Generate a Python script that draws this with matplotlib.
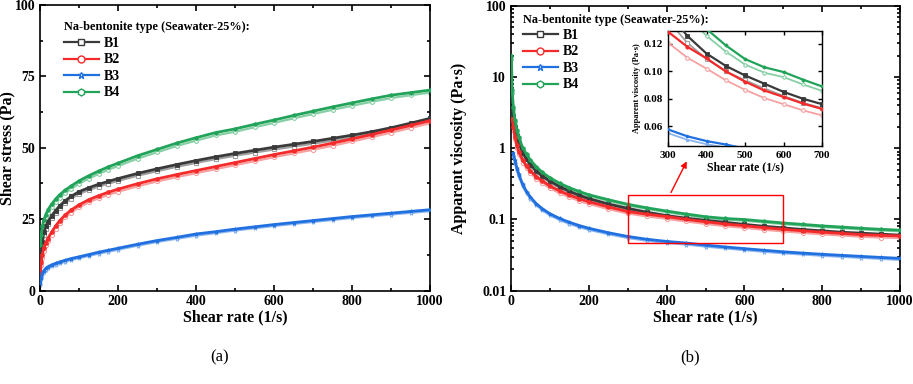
import numpy as np
import matplotlib
matplotlib.use("Agg")
import matplotlib.pyplot as plt
from matplotlib.lines import Line2D
from matplotlib.patches import Rectangle
from matplotlib.ticker import MultipleLocator, LogLocator, FixedLocator, FuncFormatter, NullFormatter

plt.rcParams['font.family'] = ['Liberation Serif', 'DejaVu Serif']
plt.rcParams['font.weight'] = 'bold'

# ---------------- data ----------------
shear_rate = [1, 3, 6, 10, 15, 20, 30, 40, 50, 65, 80, 100, 125, 150, 175, 200,
              250, 300, 350, 400, 450, 500, 550, 600, 650, 700, 750, 800, 850, 900, 950, 1000]

# shear stress, first run (solid symbols)
stress_B1 = [10, 14, 17, 20.5, 22.5, 24, 26.2, 28, 29.6, 31.5, 33, 34.6, 36, 37.2, 38.2, 39.2,
             41, 42.6, 44.1, 45.5, 46.8, 48, 49.1, 50.2, 51.2, 52.2, 53.3, 54.4, 55.6, 57, 58.6, 60.3]
stress_B2 = [6, 10, 12.5, 15, 16.8, 18.2, 20.5, 22.6, 24.4, 26.5, 28.2, 30, 31.8, 33.2, 34.4, 35.5,
             37.4, 39.1, 40.6, 42, 43.4, 44.8, 46.2, 47.6, 48.9, 50.2, 51.6, 53.1, 54.6, 56.2, 57.8, 59.5]
stress_B3 = [2.5, 4.5, 6, 7, 7.8, 8.3, 9, 9.5, 10, 10.6, 11.2, 11.8, 12.6, 13.4, 14.1, 14.8,
             16.2, 17.5, 18.6, 19.8, 20.6, 21.5, 22.3, 23.1, 23.8, 24.5, 25.2, 25.9, 26.5, 27.1, 27.7, 28.3]
stress_B4 = [16, 19.5, 22.5, 24.8, 26.6, 28.2, 30.3, 32, 33.5, 35.2, 36.6, 38.4, 40.2, 41.8, 43.3, 44.6,
             47.2, 49.4, 51.6, 53.5, 55.3, 56.6, 58.2, 59.7, 61.3, 62.8, 64.3, 65.7, 67.1, 68.4, 69.3, 70.2]

# shear stress, second run (hollow symbols)
stress_B1_r = [9, 13, 16, 19.5, 21.6, 23.2, 25.4, 27.2, 28.8, 30.7, 32.2, 33.8, 35.2, 36.4, 37.4, 38.4,
               40.2, 41.8, 43.3, 44.7, 46, 47.2, 48.3, 49.4, 50.4, 51.4, 52.5, 53.6, 54.8, 56.2, 57.8, 59.4]
stress_B2_r = [5, 9, 11.5, 14, 15.9, 17.3, 19.6, 21.7, 23.5, 25.6, 27.3, 29.1, 30.9, 32.3, 33.5, 34.6,
               36.5, 38.2, 39.7, 41.1, 42.5, 43.9, 45.3, 46.7, 48, 49.3, 50.7, 52.2, 53.7, 55.3, 56.9, 58.6]
stress_B3_r = [2, 4, 5.4, 6.5, 7.3, 7.8, 8.5, 9, 9.5, 10.1, 10.7, 11.3, 12.1, 12.9, 13.6, 14.3,
               15.7, 17, 18.1, 19.2, 20.1, 21, 21.8, 22.6, 23.3, 24, 24.7, 25.4, 26, 26.6, 27.2, 27.8]
stress_B4_r = [15, 18.5, 21.5, 23.8, 25.6, 27.2, 29.3, 31, 32.5, 34.2, 35.6, 37.4, 39.2, 40.8, 42.3, 43.6,
               46.2, 48.4, 50.6, 52.5, 54.3, 55.6, 57.2, 58.7, 60.3, 61.8, 63.3, 64.7, 66.1, 67.4, 68.4, 69.3]

nan = np.nan
# apparent viscosity, first run (solid symbols)
visc_B1 = [nan, 3.6, 2.8, 2.0, 1.5, 1.2, 0.87, 0.70, 0.59, 0.48, 0.41, 0.345, 0.289, 0.249, 0.219, 0.196,
           0.165, 0.143, 0.126, 0.113, 0.104, 0.097, 0.091, 0.085, 0.080, 0.076, 0.072, 0.069, 0.066, 0.064, 0.062, 0.060]
visc_B2 = [nan, 2.6, 2.0, 1.45, 1.1, 0.9, 0.68, 0.56, 0.48, 0.40, 0.35, 0.295, 0.252, 0.220, 0.196, 0.177,
           0.150, 0.129, 0.118, 0.1095, 0.100, 0.0925, 0.086, 0.0813, 0.0765, 0.0725, 0.069, 0.066, 0.0635, 0.061, 0.0595, 0.0585]
visc_B3 = [nan, nan, 0.85, 0.68, 0.53, 0.43, 0.31, 0.245, 0.205, 0.166, 0.142, 0.12, 0.103, 0.091, 0.082, 0.075,
           0.065, 0.0575, 0.0525, 0.049, 0.0465, 0.0435, 0.041, 0.0388, 0.0368, 0.035, 0.0336, 0.0323, 0.0312, 0.0302, 0.0292, 0.0283]
visc_B4 = [20, 6.5, 3.8, 2.5, 1.8, 1.42, 1.02, 0.82, 0.68, 0.55, 0.46, 0.385, 0.322, 0.279, 0.247, 0.222,
           0.189, 0.163, 0.145, 0.131, 0.119, 0.109, 0.103, 0.0995, 0.094, 0.089, 0.085, 0.081, 0.078, 0.075, 0.0725, 0.0705]

# apparent viscosity, second run (hollow symbols)
visc_B1_r = [nan, 3.3, 2.6, 1.88, 1.42, 1.14, 0.83, 0.67, 0.565, 0.46, 0.393, 0.331, 0.278, 0.239, 0.21, 0.188,
             0.158, 0.137, 0.121, 0.109, 0.1, 0.0935, 0.0875, 0.082, 0.077, 0.0732, 0.0694, 0.0665, 0.0636, 0.0617, 0.0598, 0.0578]
visc_B2_r = [nan, 2.3, 1.8, 1.33, 1.01, 0.83, 0.63, 0.52, 0.445, 0.372, 0.325, 0.274, 0.234, 0.205, 0.182, 0.165,
             0.14, 0.121, 0.11, 0.102, 0.0935, 0.0865, 0.0805, 0.076, 0.0715, 0.0678, 0.0645, 0.0617, 0.0594, 0.057, 0.0556, 0.0547]
visc_B3_r = [nan, nan, 0.78, 0.63, 0.495, 0.405, 0.293, 0.232, 0.195, 0.158, 0.135, 0.114, 0.098, 0.0866, 0.078, 0.0714,
             0.0619, 0.0548, 0.05, 0.0467, 0.0443, 0.0415, 0.0391, 0.037, 0.0351, 0.0334, 0.0321, 0.0308, 0.0298, 0.0288, 0.0279, 0.027]
visc_B4_r = [18, 6.0, 3.55, 2.36, 1.71, 1.35, 0.975, 0.785, 0.652, 0.528, 0.442, 0.37, 0.31, 0.269, 0.238, 0.214,
             0.182, 0.157, 0.14, 0.126, 0.1145, 0.105, 0.099, 0.0958, 0.0905, 0.0857, 0.0818, 0.078, 0.0751, 0.0722, 0.0698, 0.0679]

labels = ["B1", "B2", "B3", "B4"]
colors = ["#3a3a3a", "#f52a2a", "#2070e0", "#22a35a"]
light_colors = ["#a0a0a0", "#f7a0a0", "#8ab4f0", "#86cfa4"]
markers = ["s", "o", "*", "h"]
stresses = [stress_B1, stress_B2, stress_B3, stress_B4]
stresses_r = [stress_B1_r, stress_B2_r, stress_B3_r, stress_B4_r]
viscs = [visc_B1, visc_B2, visc_B3, visc_B4]
viscs_r = [visc_B1_r, visc_B2_r, visc_B3_r, visc_B4_r]

legend_title = "Na-bentonite type (Seawater-25%):"

# ---------------- figure ----------------
W, H = 913, 384
fig = plt.figure(figsize=(W / 100, H / 100), dpi=100)

def fr(x0, y0, x1, y1):
    return [x0 / W, 1 - y1 / H, (x1 - x0) / W, (y1 - y0) / H]

ax1 = fig.add_axes(fr(40, 5, 430, 290.5))
ax2 = fig.add_axes(fr(511, 6, 900, 290.5))

def style(ax, lw=1.2, size=10):
    for s in ax.spines.values():
        s.set_linewidth(lw)
    ax.tick_params(which='both', direction='in', top=True, right=True, width=lw)
    ax.tick_params(which='major', length=4, labelsize=size)
    ax.tick_params(which='minor', length=2)
    for t in ax.get_xticklabels() + ax.get_yticklabels():
        t.set_fontweight('bold')

def draw(ax, ys_main, ys_rep, lw=2.0, ms=3.0):
    for c, lc, m, ym, yr in zip(colors, light_colors, markers, ys_main, ys_rep):
        ax.plot(shear_rate, yr, color=lc, lw=lw * 0.8, marker=m, ms=ms, mfc='white', mec=lc, mew=0.8, zorder=2)
    for c, lc, m, ym, yr in zip(colors, light_colors, markers, ys_main, ys_rep):
        ax.plot(shear_rate, ym, color=c, lw=lw, marker=m, ms=ms * 0.9, mfc=c, mec=c, mew=0.6, zorder=3)

# ---- (a) shear stress ----
draw(ax1, stresses, stresses_r)
ax1.set_xlim(0, 1000)
ax1.set_ylim(0, 100)
ax1.xaxis.set_major_locator(MultipleLocator(200))
ax1.xaxis.set_minor_locator(MultipleLocator(100))
ax1.yaxis.set_major_locator(MultipleLocator(25))
ax1.yaxis.set_minor_locator(MultipleLocator(12.5))
ax1.set_xlabel("Shear rate (1/s)", fontsize=11.5, fontweight='bold', labelpad=1)
ax1.set_ylabel("Shear stress (Pa)", fontsize=11.5, fontweight='bold')
ax1.yaxis.set_label_coords(-0.064, 0.5)
style(ax1)

# ---- (b) apparent viscosity ----
draw(ax2, viscs, viscs_r)
ax2.set_yscale('log')
ax2.set_xlim(0, 1000)
ax2.set_ylim(0.01, 100)
ax2.xaxis.set_major_locator(MultipleLocator(200))
ax2.xaxis.set_minor_locator(MultipleLocator(100))
ax2.yaxis.set_major_locator(FixedLocator([0.01, 0.1, 1, 10, 100]))
ax2.yaxis.set_minor_locator(LogLocator(base=10, subs=np.arange(2, 10)))
ax2.yaxis.set_minor_formatter(NullFormatter())
ax2.yaxis.set_major_formatter(FuncFormatter(lambda v, p: f"{v:g}"))
ax2.set_xlabel("Shear rate (1/s)", fontsize=11.5, fontweight='bold', labelpad=1)
ax2.set_ylabel("Apparent viscosity (Pa·s)", fontsize=11.5, fontweight='bold')
ax2.yaxis.set_label_coords(-0.112, 0.5)
style(ax2)

ax2.add_patch(Rectangle((300, 0.046), 400, 0.174, fill=False, edgecolor='red', lw=1.0, zorder=5))
ax2.annotate("", xy=(455, 0.71), xytext=(408, 0.22),
             arrowprops=dict(arrowstyle='-|>', color='red', lw=1.0, mutation_scale=9), zorder=5)

# ---- legends (title as separate text for exact placement) ----
handles = [Line2D([0], [0], color=c, lw=1.6, marker=m, ms=5, mfc='white', mec=c, mew=1.0)
           for c, m in zip(colors, markers)]
for ax, (tx, ty, ly) in [(ax1, (64, 27, 37), ), (ax2, (523, 20, 29))]:
    fig.text(tx / W, 1 - ty / H, legend_title, ha='left', va='center', fontsize=8.8, fontweight='bold')
    ax.legend(handles, labels, loc='upper left', bbox_to_anchor=(tx / W, 1 - ly / H),
              bbox_transform=fig.transFigure, frameon=False,
              prop={'weight': 'bold', 'size': 10}, handlelength=2.5, handletextpad=0.4,
              labelspacing=0.25, borderpad=0, borderaxespad=0)

# ---- inset ----
axi = fig.add_axes(fr(668, 31, 822, 146))
draw(axi, viscs, viscs_r, lw=1.6, ms=2.6)
axi.set_xlim(300, 700)
axi.set_ylim(0.0454, 0.1295)
axi.xaxis.set_major_locator(MultipleLocator(100))
axi.yaxis.set_major_locator(FixedLocator([0.06, 0.08, 0.10, 0.12]))
axi.yaxis.set_major_formatter(FuncFormatter(lambda v, p: f"{v:.2f}"))
axi.set_xlabel("Shear rate (1/s)", fontsize=8.5, fontweight='bold', labelpad=1)
axi.set_ylabel("Apparent viscosity (Pa·s)", fontsize=6, fontweight='bold', labelpad=2)
style(axi, lw=1.0, size=8)
axi.tick_params(which='major', length=3)

fig.text(220 / W, 1 - 357 / H, "(a)", ha='center', va='center', fontsize=12, fontweight='normal')
fig.text(690 / W, 1 - 357 / H, "(b)", ha='center', va='center', fontsize=12, fontweight='normal')

fig.savefig("out.png", dpi=100)
